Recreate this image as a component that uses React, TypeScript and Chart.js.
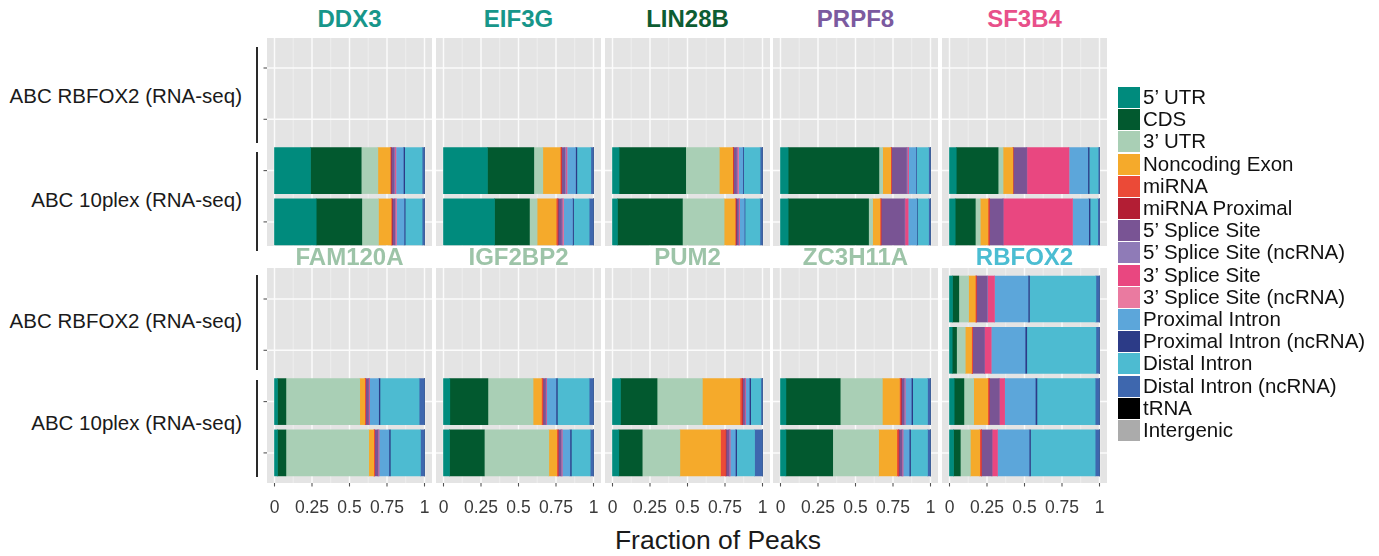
import React, { useEffect, useRef } from "react";
import { Chart, registerables } from "chart.js";

Chart.register(...registerables);

// ---------------- data ----------------
const regions = [
  "5\u2019 UTR",
  "CDS",
  "3\u2019 UTR",
  "Noncoding Exon",
  "miRNA",
  "miRNA Proximal",
  "5\u2019 Splice Site",
  "5\u2019 Splice Site (ncRNA)",
  "3\u2019 Splice Site",
  "3\u2019 Splice Site (ncRNA)",
  "Proximal Intron",
  "Proximal Intron (ncRNA)",
  "Distal Intron",
  "Distal Intron (ncRNA)",
  "tRNA",
  "Intergenic",
];
const regionColors = [
  "#008b7d", "#02592f", "#a9cfb5", "#f5aa2b", "#eb4a37", "#b31e34",
  "#795494", "#8f7bb7", "#e94780", "#ea7aa0", "#5ca6da", "#2c3b87",
  "#4dbbd1", "#3e67ae", "#000000", "#ababab",
];

const rowGroupLabels = ["ABC RBFOX2 (RNA-seq)", "ABC 10plex (RNA-seq)"];
const topProteins = ["DDX3", "EIF3G", "LIN28B", "PRPF8", "SF3B4"];
const bottomProteins = ["FAM120A", "IGF2BP2", "PUM2", "ZC3H11A", "RBFOX2"];
const topTitleColors = ["#17968a", "#17968a", "#0d5c32", "#7b5a9f", "#e8508a"];
const bottomTitleColors = ["#9dc4a8", "#9dc4a8", "#9dc4a8", "#9dc4a8", "#4bbdd2"];

const xMajorTicks = [0, 0.25, 0.5, 0.75, 1];
const xTickLabels = ["0", "0.25", "0.5", "0.75", "1"];
const xMinorTicks = [0.125, 0.375, 0.625, 0.875];
const slots = [0, 1, 2, 3]; // RBFOX2 rep1, rep2, 10plex rep1, rep2
const xAxisTitle = "Fraction of Peaks";

// each bar: fractions in the order of `regions`; null = no bar in that slot
const DDX3 = [
  null,
  null,
  [0.24, 0.338, 0.111, 0.082, 0.003, 0.004, 0.018, 0.006, 0.004, 0.004, 0.049, 0.009, 0.116, 0.016, 0, 0],
  [0.278, 0.304, 0.111, 0.084, 0.004, 0.004, 0.016, 0.004, 0.004, 0.004, 0.051, 0.007, 0.113, 0.016, 0, 0],
];
const EIF3G = [
  null,
  null,
  [0.293, 0.309, 0.06, 0.116, 0.007, 0.003, 0.02, 0.008, 0.004, 0.004, 0.056, 0.009, 0.093, 0.018, 0, 0],
  [0.34, 0.233, 0.051, 0.127, 0.009, 0.004, 0.022, 0.006, 0.004, 0.004, 0.06, 0.007, 0.104, 0.029, 0, 0],
];
const LIN28B = [
  null,
  null,
  [0.044, 0.444, 0.224, 0.089, 0.004, 0.003, 0.018, 0.006, 0.004, 0.004, 0.029, 0.005, 0.11, 0.016, 0, 0],
  [0.033, 0.433, 0.278, 0.073, 0.004, 0.004, 0.013, 0.004, 0.003, 0.003, 0.031, 0.004, 0.1, 0.017, 0, 0],
];
const PRPF8 = [
  null,
  null,
  [0.051, 0.605, 0.025, 0.054, 0.004, 0, 0.1, 0.007, 0.007, 0, 0.051, 0.004, 0.079, 0.013, 0, 0],
  [0.051, 0.536, 0.027, 0.049, 0.007, 0, 0.156, 0.004, 0.02, 0, 0.058, 0.004, 0.075, 0.013, 0, 0],
];
const SF3B4 = [
  null,
  null,
  [0.045, 0.279, 0.033, 0.065, 0.002, 0, 0.09, 0.002, 0.279, 0.002, 0.125, 0.009, 0.06, 0.009, 0, 0],
  [0.038, 0.134, 0.033, 0.051, 0.009, 0, 0.092, 0, 0.462, 0, 0.109, 0.009, 0.051, 0.012, 0, 0],
];
const FAM120A = [
  null,
  null,
  [0.02, 0.056, 0.492, 0.033, 0.007, 0, 0.018, 0.004, 0.004, 0, 0.06, 0.009, 0.261, 0.036, 0, 0],
  [0.02, 0.056, 0.552, 0.033, 0.007, 0, 0.02, 0.004, 0.004, 0, 0.067, 0.009, 0.201, 0.027, 0, 0],
];
const IGF2BP2 = [
  null,
  null,
  [0.042, 0.254, 0.301, 0.056, 0.009, 0, 0.018, 0.004, 0.004, 0, 0.062, 0.009, 0.212, 0.029, 0, 0],
  [0.04, 0.232, 0.43, 0.053, 0.009, 0, 0.018, 0.004, 0.004, 0, 0.053, 0.009, 0.126, 0.022, 0, 0],
];
const PUM2 = [
  null,
  null,
  [0.053, 0.244, 0.302, 0.251, 0.013, 0.004, 0.013, 0.004, 0.004, 0, 0.024, 0.009, 0.068, 0.011, 0, 0],
  [0.042, 0.156, 0.251, 0.271, 0.033, 0.004, 0.018, 0.004, 0.004, 0, 0.036, 0.009, 0.119, 0.053, 0, 0],
];
const ZC3H11A = [
  null,
  null,
  [0.036, 0.362, 0.281, 0.114, 0.009, 0.004, 0.016, 0.004, 0.004, 0, 0.042, 0.009, 0.099, 0.02, 0, 0],
  [0.036, 0.312, 0.306, 0.121, 0.011, 0.004, 0.018, 0.004, 0.004, 0, 0.042, 0.009, 0.113, 0.02, 0, 0],
];
const RBFOX2 = [
  [0.02, 0.042, 0.065, 0.045, 0.007, 0, 0.071, 0.004, 0.045, 0, 0.225, 0.009, 0.443, 0.024, 0, 0],
  [0.018, 0.029, 0.058, 0.042, 0.007, 0, 0.078, 0, 0.045, 0, 0.227, 0.011, 0.461, 0.024, 0, 0],
  [0.031, 0.065, 0.065, 0.094, 0.009, 0, 0.067, 0, 0.036, 0, 0.205, 0.011, 0.388, 0.029, 0, 0],
  [0.027, 0.045, 0.067, 0.062, 0.011, 0, 0.071, 0, 0.036, 0, 0.212, 0.009, 0.431, 0.029, 0, 0],
];

const topBars = [DDX3, EIF3G, LIN28B, PRPF8, SF3B4];
const bottomBars = [FAM120A, IGF2BP2, PUM2, ZC3H11A, RBFOX2];

// ---------------- layout / style ----------------
const FONT = '"Liberation Sans", Arial, Helvetica, sans-serif';
const PANEL_BG = "#e4e4e4";
const COL_LEFTS = [267, 436, 605, 773, 942];
const PANEL_W = 165;
const PAD_L = 6;
const SLOT_PX = 51.3;
const ROWS = [
  { top: 38, height: 208, firstSlotOffset: 30, titleY: 19, showX: false },
  { top: 268, height: 215, firstSlotOffset: 31, titleY: 257, showX: true },
];
const X_LABEL_SPACE = 40;

const panelDecor = {
  id: "panelDecor",
  beforeDatasetsDraw(chart: any, _args: any, opts: any) {
    const { ctx, chartArea: a } = chart;
    const xs = chart.scales.x;
    const ys = chart.scales.y;
    ctx.save();
    ctx.fillStyle = PANEL_BG;
    ctx.fillRect(a.left, a.top, a.right - a.left, a.bottom - a.top);
    ctx.beginPath();
    ctx.rect(a.left, a.top, a.right - a.left, a.bottom - a.top);
    ctx.clip();
    ctx.strokeStyle = "#f1f1f1";
    ctx.lineWidth = 0.8;
    xMinorTicks.forEach((v) => {
      const p = xs.getPixelForValue(v);
      ctx.beginPath();
      ctx.moveTo(p, a.top);
      ctx.lineTo(p, a.bottom);
      ctx.stroke();
    });
    ctx.strokeStyle = "#fbfbfb";
    ctx.lineWidth = 1.5;
    xMajorTicks.forEach((v) => {
      const p = xs.getPixelForValue(v);
      ctx.beginPath();
      ctx.moveTo(p, a.top);
      ctx.lineTo(p, a.bottom);
      ctx.stroke();
    });
    slots.forEach((s) => {
      const p = ys.getPixelForValue(s);
      ctx.beginPath();
      ctx.moveTo(a.left, p);
      ctx.lineTo(a.right, p);
      ctx.stroke();
    });
    ctx.restore();
  },
  afterDatasetsDraw(chart: any, _args: any, opts: any) {
    const { ctx, chartArea: a } = chart;
    const xs = chart.scales.x;
    const ys = chart.scales.y;
    ctx.save();
    ctx.strokeStyle = "#555555";
    ctx.lineWidth = 1.1;
    if (opts.showY) {
      slots.forEach((s) => {
        const p = ys.getPixelForValue(s);
        ctx.beginPath();
        ctx.moveTo(a.left - 3.5, p);
        ctx.lineTo(a.left, p);
        ctx.stroke();
      });
    }
    if (opts.showX) {
      ctx.fillStyle = "#3a3a3a";
      ctx.font = `17.5px ${FONT}`;
      ctx.textAlign = "center";
      ctx.textBaseline = "middle";
      xMajorTicks.forEach((v, i) => {
        const p = xs.getPixelForValue(v);
        ctx.beginPath();
        ctx.moveTo(p, a.bottom);
        ctx.lineTo(p, a.bottom + 3.5);
        ctx.stroke();
        ctx.fillText(xTickLabels[i], p, a.bottom + 25);
      });
    }
    ctx.restore();
  },
};

type PanelProps = {
  bars: (number[] | null)[];
  left: number;
  top: number;
  height: number;
  firstSlotOffset: number;
  showX: boolean;
  showY: boolean;
};

function Panel({ bars, left, top, height, firstSlotOffset, showX, showY }: PanelProps) {
  const ref = useRef<HTMLCanvasElement | null>(null);
  const W = PANEL_W + PAD_L;
  const padB = showX ? X_LABEL_SPACE : 0;
  const H = height + padB;
  useEffect(() => {
    if (!ref.current) return;
    const datasets = regions.map((name, r) => ({
      label: name,
      backgroundColor: regionColors[r],
      borderWidth: 0,
      barThickness: 46,
      data: bars
        .map((b, s) => (b ? { x: b[r], y: slots[s] } : null))
        .filter((d) => d !== null),
    }));
    const yMin = -firstSlotOffset / SLOT_PX;
    const yMax = height / SLOT_PX + yMin;
    const chart = new Chart(ref.current, {
      type: "bar",
      data: { datasets } as any,
      options: {
        indexAxis: "y",
        animation: false,
        responsive: false,
        devicePixelRatio: 1,
        layout: { padding: { left: PAD_L, right: 0, top: 0, bottom: padB } },
        scales: {
          x: { type: "linear", stacked: true, min: -0.05, max: 1.05, offset: false, display: false },
          y: {
            type: "linear",
            stacked: true,
            reverse: true,
            min: yMin,
            max: yMax,
            offset: false,
            grid: { offset: false },
            display: false,
          },
        },
        plugins: {
          legend: { display: false },
          tooltip: { enabled: false },
          panelDecor: { showX, showY },
        } as any,
      },
      plugins: [panelDecor as any],
    });
    return () => chart.destroy();
  }, []);
  return (
    <canvas
      ref={ref}
      width={W}
      height={H}
      style={{ position: "absolute", left: left - PAD_L, top, width: W, height: H }}
    />
  );
}

const abs = (o: any) => ({ position: "absolute" as const, ...o });

export default function App() {
  const rowSets = [
    { proteins: topProteins, colors: topTitleColors, bars: topBars },
    { proteins: bottomProteins, colors: bottomTitleColors, bars: bottomBars },
  ];
  const yLabelCenters = [
    [96, 200],
    [321, 423],
  ];
  const brackets = [
    [47, 143, 152, 251],
    [275, 370, 380, 477],
  ];
  return (
    <div
      style={{
        position: "fixed",
        left: 0,
        top: 0,
        width: 1379,
        height: 556,
        background: "#ffffff",
        fontFamily: FONT,
        overflow: "hidden",
      }}
    >
      {rowSets.map((rs, ri) => (
        <React.Fragment key={ri}>
          {rs.proteins.map((p, ci) => (
            <React.Fragment key={p}>
              <div
                style={abs({
                  left: COL_LEFTS[ci],
                  width: PANEL_W,
                  top: ROWS[ri].titleY - 14,
                  height: 28,
                  lineHeight: "28px",
                  textAlign: "center",
                  fontWeight: "bold",
                  fontSize: 24,
                  color: rs.colors[ci],
                })}
              >
                {p}
              </div>
              <Panel
                bars={rs.bars[ci]}
                left={COL_LEFTS[ci]}
                top={ROWS[ri].top}
                height={ROWS[ri].height}
                firstSlotOffset={ROWS[ri].firstSlotOffset}
                showX={ROWS[ri].showX}
                showY={ci === 0}
              />
            </React.Fragment>
          ))}
          {rowGroupLabels.map((lab, gi) => (
            <div
              key={lab}
              style={abs({
                left: 0,
                width: 242,
                top: yLabelCenters[ri][gi] - 13,
                height: 26,
                lineHeight: "26px",
                textAlign: "right",
                fontSize: 20.5,
                color: "#1a1a1a",
                whiteSpace: "nowrap",
              })}
            >
              {lab}
            </div>
          ))}
          {[0, 1].map((gi) => (
            <div
              key={"b" + gi}
              style={abs({
                left: 256,
                width: 2,
                top: brackets[ri][gi * 2],
                height: brackets[ri][gi * 2 + 1] - brackets[ri][gi * 2],
                background: "#2a2a2a",
              })}
            />
          ))}
        </React.Fragment>
      ))}
      <div
        style={abs({
          left: 518,
          width: 400,
          top: 524,
          height: 32,
          lineHeight: "32px",
          textAlign: "center",
          fontSize: 26.5,
          color: "#1a1a1a",
        })}
      >
        {xAxisTitle}
      </div>
      {regions.map((r, i) => (
        <React.Fragment key={r}>
          <div
            style={abs({
              left: 1118,
              top: 87 + i * 22.2,
              width: 22,
              height: 21,
              background: regionColors[i],
            })}
          />
          <div
            style={abs({
              left: 1143,
              top: 87 + i * 22.2 - 1,
              height: 22,
              lineHeight: "22px",
              fontSize: 20.5,
              color: "#111111",
              whiteSpace: "nowrap",
            })}
          >
            {r}
          </div>
        </React.Fragment>
      ))}
    </div>
  );
}
